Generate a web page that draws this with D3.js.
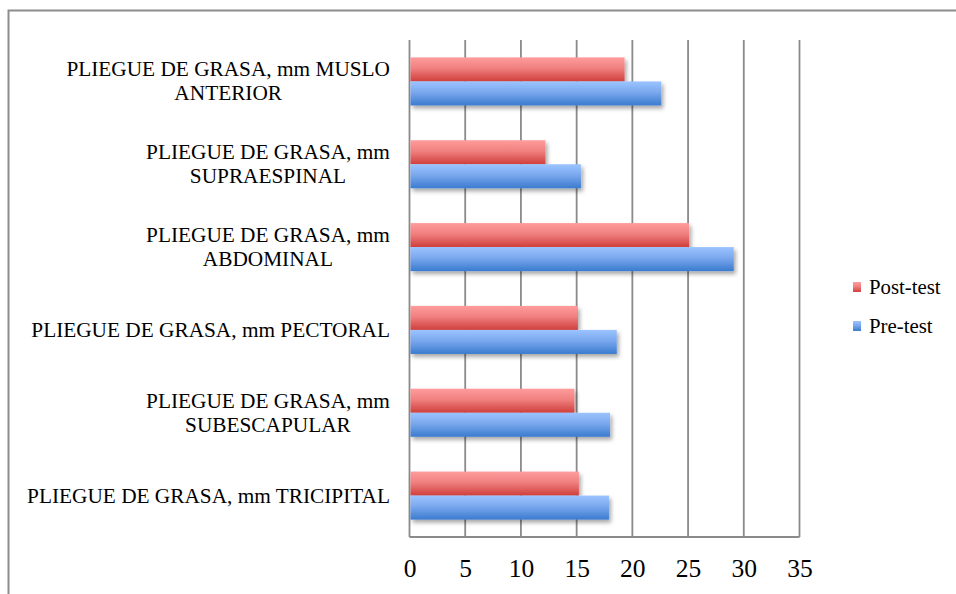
<!DOCTYPE html>
<html>
<head>
<meta charset="utf-8">
<script src="https://cdn.jsdelivr.net/npm/d3@7/dist/d3.min.js"></script>
<style>
  html, body { margin: 0; padding: 0; background: #fff; }
  svg { display: block; }
  text { font-family: "Liberation Serif", "Times New Roman", serif; fill: #000; }
</style>
</head>
<body>
<svg id="chart" width="956" height="594"></svg>
<script>
// Skinfold measurements (mm), listed top to bottom
const categories = [
  ["PLIEGUE DE GRASA, mm MUSLO", "ANTERIOR"],
  ["PLIEGUE DE GRASA, mm", "SUPRAESPINAL"],
  ["PLIEGUE DE GRASA, mm", "ABDOMINAL"],
  ["PLIEGUE DE GRASA, mm PECTORAL"],
  ["PLIEGUE DE GRASA, mm", "SUBESCAPULAR"],
  ["PLIEGUE DE GRASA, mm TRICIPITAL"]
];
const postTest = [19.3, 12.2, 25.1, 15.1, 14.8, 15.2];
const preTest  = [22.6, 15.4, 29.1, 18.6, 18.0, 17.9];
const seriesNames = ["Post-test", "Pre-test"];
const xTicks = [0, 5, 10, 15, 20, 25, 30, 35];

const svg = d3.select("#chart");

// outer chart frame (runs off the right and bottom edges)
svg.append("path")
  .attr("d", "M8.5,600 V10.5 H960")
  .attr("fill", "none").attr("stroke", "#8c8c8c").attr("stroke-width", 2);

const plot = { left: 409.5, right: 799.5, top: 40, bottom: 537 };

const x = d3.scaleLinear().domain([0, 35]).range([plot.left, plot.right]);
const y = d3.scaleBand().domain(d3.range(categories.length))
  .range([plot.top, plot.bottom]).paddingInner(0.42).paddingOuter(0.21);
const ySeries = d3.scaleBand().domain(seriesNames).range([0, y.bandwidth()]);

// gradients and shadow
const defs = svg.append("defs");
const grads = {
  "Post-test": ["#ff9c9c", "#f08080", "#cf3f3b"],
  "Pre-test":  ["#9cc3ff", "#7aa8ee", "#3b7bcf"]
};
Object.entries(grads).forEach(([name, stops], i) => {
  const g = defs.append("linearGradient").attr("id", "g" + i)
    .attr("x1", 0).attr("y1", 0).attr("x2", 0).attr("y2", 1);
  g.append("stop").attr("offset", "0%").attr("stop-color", stops[0]);
  g.append("stop").attr("offset", "45%").attr("stop-color", stops[1]);
  g.append("stop").attr("offset", "100%").attr("stop-color", stops[2]);
});
const f = defs.append("filter").attr("id", "shadow")
  .attr("x", "-5%").attr("y", "-30%").attr("width", "115%").attr("height", "180%");
f.append("feDropShadow").attr("dx", 2).attr("dy", 3).attr("stdDeviation", 2.2)
  .attr("flood-color", "#000").attr("flood-opacity", 0.35);

// vertical gridlines
svg.append("g").selectAll("line").data(xTicks).join("line")
  .attr("x1", d => x(d)).attr("x2", d => x(d))
  .attr("y1", plot.top).attr("y2", plot.bottom)
  .attr("stroke", "#8a8a8a").attr("stroke-width", 1.8);

// bars
const series = [
  { name: "Post-test", values: postTest, grad: "url(#g0)" },
  { name: "Pre-test",  values: preTest,  grad: "url(#g1)" }
];
const barG = svg.append("g").attr("filter", "url(#shadow)");
series.forEach(s => {
  barG.append("g").selectAll("rect").data(s.values).join("rect")
    .attr("x", x(0) + 1)
    .attr("y", (d, i) => y(i) + ySeries(s.name))
    .attr("width", d => x(d) - x(0) - 1)
    .attr("height", ySeries.bandwidth())
    .attr("fill", s.grad);
});

// bottom axis line
svg.append("line")
  .attr("x1", plot.left).attr("x2", plot.right)
  .attr("y1", plot.bottom).attr("y2", plot.bottom)
  .attr("stroke", "#8a8a8a").attr("stroke-width", 1.8);

// x tick labels
const xAxis = d3.axisBottom(x).tickValues(xTicks).tickSize(0).tickPadding(22);
const ax = svg.append("g").attr("transform", `translate(0,${plot.bottom})`).call(xAxis);
ax.select(".domain").remove();
ax.attr("font-family", null);
ax.selectAll("text").attr("font-size", 25.5)
  .style("font-family", "'Liberation Serif', 'Times New Roman', serif").attr("fill", "#000");

// category labels (centred block, right edge next to the axis)
const labelG = svg.append("g");
categories.forEach((lines, i) => {
  const cy = y(i) + y.bandwidth() / 2;
  const t = labelG.append("text")
    .attr("font-size", 21.3).attr("text-anchor", "middle");
  const lineH = 24;
  const y0 = cy - (lines.length - 1) * lineH / 2;
  lines.forEach((ln, j) => {
    t.append("tspan").attr("x", 0).attr("y", y0 + j * lineH).attr("dy", "0.33em").text(ln);
  });
  // shift so the widest line ends at the label edge
  const w = t.node().getBBox().width;
  t.attr("transform", `translate(${390 - w / 2},0)`);
});

// legend
const legend = svg.append("g");
const legendItems = [
  { name: "Post-test", grad: "url(#g0)", y: 287 },
  { name: "Pre-test",  grad: "url(#g1)", y: 326 }
];
legendItems.forEach(d => {
  legend.append("rect").attr("x", 853).attr("y", d.y - 5).attr("width", 8).attr("height", 10)
    .attr("fill", d.grad);
  legend.append("text").attr("x", 869).attr("y", d.y).attr("dy", "0.33em")
    .attr("font-size", 20.8).text(d.name);
});
</script>
</body>
</html>
